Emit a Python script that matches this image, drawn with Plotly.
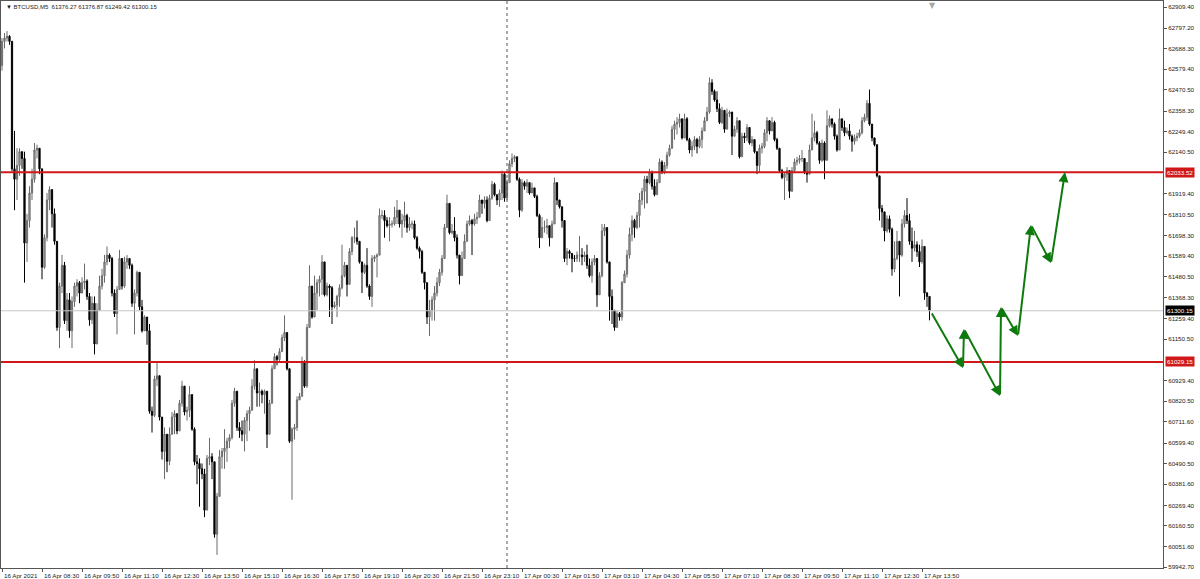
import pandas as pd
import plotly.graph_objects as go

# ---------------- data ----------------
symbol_header = "\u25BC BTCUSD,M5  61376.27 61376.87 61249.42 61300.15"
start_time = "2021-04-16 07:10"
first_open = 62600

closes = [
    62727, 62745, 62754, 62727, 62052, 61997, 62070, 62143, 62107, 61659,
    61778, 61924, 61997, 62152, 62161, 62052, 61531, 61687, 61887, 61942,
    61814, 61668, 61212, 61431, 61541, 61248, 61358, 61194, 61349, 61431,
    61449, 61394, 61449, 61458, 61376, 61252, 61340, 61124, 61303, 61431,
    61486, 61559, 61595, 61577, 61394, 61285, 61413, 61577, 61431, 61559,
    61577, 61541, 61340, 61394, 61504, 61321, 61194, 61267, 61194, 60768,
    60746, 60938, 60956, 60737, 60555, 60646, 60503, 60646, 60737, 60755,
    60664, 60810, 60901, 60764, 60773, 60856, 60673, 60500, 60491, 60463,
    60436, 60244, 60518, 60527, 60500, 60116, 60317, 60527, 60555, 60573,
    60609, 60628, 60810, 60874, 60682, 60664, 60646, 60719, 60755, 60773,
    60901, 60993, 60865, 60874, 60856, 60874, 60646, 60810, 60993, 61057,
    61042, 61084, 61157, 61185, 60993, 60609, 60673, 60682, 60828, 60847,
    61029, 60901, 61212, 61431, 61267, 61394, 61449, 61467, 61559, 61385,
    61431, 61422, 61321, 61330, 61376, 61422, 61486, 61541, 61440, 61614,
    61687, 61687, 61668, 61559, 61504, 61541, 61431, 61376, 61577, 61586,
    61595, 61805, 61805, 61778, 61751, 61760, 61760, 61796, 61833, 61760,
    61778, 61805, 61741, 61760, 61760, 61687, 61632, 61614, 61504, 61449,
    61267, 61303, 61358, 61394, 61449, 61504, 61577, 61741, 61869, 61714,
    61723, 61687, 61595, 61486, 61577, 61668, 61760, 61778, 61760, 61787,
    61796, 61887, 61869, 61887, 61778, 61897, 61970, 61915, 61887, 61924,
    62024, 61897, 61979, 62079, 62107, 62116, 61997, 61833, 61979, 61960,
    61979, 61924, 61951, 61906, 61805, 61687, 61741, 61741, 61751, 61687,
    61760, 61979, 61887, 61851, 61778, 61577, 61614, 61604, 61577, 61577,
    61595, 61595, 61586, 61595, 61541, 61486, 61559, 61577, 61385, 61486,
    61723, 61741, 61559, 61376, 61303, 61212, 61285, 61267, 61449, 61495,
    61595, 61705, 61778, 61741, 61805, 61887, 61933, 61997, 61979, 62033,
    61960, 61915, 61979, 62088, 62033, 62070, 62125, 62161, 62262, 62289,
    62298, 62317, 62216, 62317, 62207, 62152, 62171, 62207, 62171, 62207,
    62253, 62307, 62353, 62508, 62463, 62417, 62371, 62298, 62362, 62262,
    62344, 62353, 62225, 62262, 62307, 62116, 62225, 62216, 62271, 62189,
    62207, 62143, 62070, 62161, 62171, 62243, 62307, 62253, 62298, 62207,
    62161, 62043, 62006, 62024, 62043, 61933, 62043, 62088, 62097, 62107,
    62107, 62033, 62024, 62152, 62216, 62243, 62189, 62097, 62189, 62097,
    62280, 62317, 62289, 62225, 62152, 62317, 62271, 62243, 62253, 62225,
    62198, 62216, 62225, 62243, 62307, 62326, 62399, 62289, 62216, 62180,
    62015, 61842, 61824, 61723, 61787, 61732, 61522, 61577, 61668, 61595,
    61760, 61805, 61778, 61668, 61632, 61650, 61614, 61559, 61641, 61394,
    61376.27, 61300.15,
]

highs = [
    62745, 62772, 62782, 62760, 62730, 62253, 62161, 62161, 62143, 62143,
    61814, 61960, 62052, 62189, 62180, 62152, 62052, 61705, 61924, 61960,
    61924, 61842, 61668, 61449, 61596, 61559, 61394, 61394, 61376, 61449,
    61467, 61458, 61477, 61550, 61467, 61394, 61376, 61376, 61340, 61486,
    61522, 61596, 61641, 61604, 61586, 61413, 61431, 61623, 61577, 61586,
    61595, 61577, 61550, 61413, 61513, 61504, 61358, 61276, 61267, 61230,
    60792, 60956, 61024, 60938, 60737, 60682, 60646, 60682, 60764, 60773,
    60737, 60828, 60929, 60901, 60792, 60901, 60856, 60682, 60536, 60518,
    60491, 60463, 60536, 60627, 60546, 60500, 60335, 60563, 60573, 60673,
    60627, 60646, 60828, 60892, 60874, 60710, 60719, 60737, 60773, 60792,
    60938, 61038, 60938, 60920, 60883, 60883, 60874, 60828, 61011, 61075,
    61066, 61102, 61175, 61276, 61157, 60993, 60682, 60701, 60847, 60865,
    61057, 61038, 61230, 61541, 61431, 61486, 61467, 61486, 61595, 61559,
    61449, 61440, 61431, 61349, 61385, 61440, 61650, 61559, 61541, 61632,
    61696, 61741, 61778, 61668, 61559, 61550, 61632, 61440, 61595, 61595,
    61604, 61842, 61833, 61833, 61796, 61796, 61778, 61851, 61887, 61833,
    61814, 61878, 61814, 61796, 61778, 61778, 61696, 61641, 61623, 61504,
    61449, 61358, 61376, 61431, 61477, 61522, 61595, 61760, 61915, 61869,
    61760, 61796, 61705, 61595, 61614, 61705, 61778, 61805, 61787, 61814,
    61824, 61915, 61887, 61906, 61906, 61915, 61988, 61979, 61915, 61942,
    62043, 62033, 61997, 62097, 62134, 62125, 62116, 62006, 61997, 61988,
    61997, 61979, 61979, 61951, 61915, 61814, 61796, 61778, 61787, 61751,
    61778, 62006, 61979, 61887, 61851, 61778, 61632, 61623, 61586, 61595,
    61614, 61696, 61632, 61614, 61650, 61577, 61577, 61595, 61577, 61504,
    61760, 61760, 61741, 61559, 61413, 61303, 61303, 61294, 61458, 61513,
    61623, 61741, 61805, 61787, 61824, 61924, 61951, 62015, 62015, 62052,
    62043, 61997, 61997, 62107, 62097, 62088, 62143, 62180, 62280, 62307,
    62326, 62344, 62317, 62344, 62326, 62216, 62198, 62225, 62216, 62225,
    62271, 62326, 62380, 62536, 62527, 62472, 62463, 62399, 62380, 62307,
    62371, 62362, 62344, 62280, 62326, 62289, 62243, 62243, 62289, 62253,
    62225, 62207, 62143, 62180, 62189, 62262, 62326, 62298, 62326, 62307,
    62216, 62161, 62052, 62033, 62061, 62033, 62061, 62107, 62116, 62125,
    62152, 62107, 62088, 62180, 62344, 62307, 62253, 62198, 62207, 62198,
    62362, 62335, 62317, 62298, 62234, 62371, 62317, 62307, 62271, 62289,
    62234, 62234, 62243, 62262, 62326, 62344, 62417, 62472, 62289, 62216,
    62180, 62015, 61860, 61814, 61805, 61805, 61741, 61668, 61723, 61668,
    61787, 61833, 61897, 61814, 61741, 61723, 61668, 61650, 61678, 61641,
    61400, 61376.87,
]

lows = [
    62572, 62690, 62727, 62709, 62040, 61833, 61887, 62015, 62052, 61449,
    61559, 61741, 61887, 61979, 62107, 62024, 61467, 61522, 61668, 61833,
    61741, 61650, 61194, 61102, 61394, 61230, 61194, 61157, 61102, 61321,
    61376, 61340, 61394, 61413, 61358, 61221, 61230, 61069, 61124, 61303,
    61413, 61449, 61541, 61559, 61376, 61267, 61175, 61413, 61413, 61422,
    61522, 61522, 61321, 61175, 61376, 61303, 61185, 61194, 61120, 60755,
    60655, 60737, 60901, 60719, 60512, 60408, 60445, 60482, 60646, 60646,
    60646, 60664, 60792, 60746, 60719, 60737, 60664, 60482, 60381, 60262,
    60408, 60207, 60244, 60482, 60408, 60098, 60007, 60317, 60463, 60463,
    60500, 60573, 60618, 60792, 60664, 60627, 60609, 60555, 60609, 60664,
    60773, 60883, 60792, 60792, 60810, 60755, 60573, 60646, 60810, 60993,
    61011, 61029, 61084, 61139, 60984, 60600, 60299, 60618, 60664, 60828,
    60892, 60892, 60892, 61212, 61258, 61321, 61303, 61376, 61385, 61376,
    61376, 61267, 61230, 61312, 61267, 61321, 61413, 61477, 61376, 61440,
    61595, 61659, 61650, 61550, 61394, 61495, 61422, 61358, 61321, 61559,
    61477, 61595, 61787, 61687, 61741, 61668, 61741, 61751, 61760, 61741,
    61687, 61741, 61714, 61723, 61732, 61678, 61623, 61577, 61495, 61413,
    61230, 61166, 61248, 61248, 61376, 61431, 61486, 61577, 61741, 61705,
    61705, 61668, 61577, 61440, 61559, 61577, 61705, 61751, 61595, 61751,
    61760, 61814, 61814, 61842, 61769, 61778, 61887, 61906, 61860, 61851,
    61887, 61878, 61887, 61979, 62061, 62088, 61988, 61796, 61824, 61942,
    61924, 61915, 61924, 61897, 61796, 61632, 61687, 61714, 61705, 61641,
    61723, 61760, 61860, 61842, 61741, 61559, 61541, 61577, 61504, 61559,
    61559, 61559, 61541, 61559, 61522, 61477, 61449, 61541, 61321, 61394,
    61477, 61696, 61550, 61248, 61230, 61194, 61230, 61248, 61248, 61449,
    61477, 61577, 61668, 61687, 61732, 61741, 61860, 61842, 61869, 61970,
    61942, 61906, 61924, 61979, 62024, 62024, 62052, 62116, 62180, 62207,
    62234, 62271, 62207, 62216, 62198, 62134, 62116, 62152, 62134, 62161,
    62161, 62253, 62317, 62344, 62444, 62408, 62353, 62289, 62289, 62243,
    62289, 62326, 62125, 62225, 62243, 62107, 62116, 62189, 62198, 62180,
    62171, 62134, 62024, 62033, 62134, 62161, 62198, 62234, 62271, 62198,
    62152, 62033, 61997, 61887, 61988, 61897, 61951, 62033, 62070, 62079,
    62088, 62024, 61979, 62024, 62152, 62198, 62180, 62079, 62088, 61997,
    62107, 62271, 62271, 62207, 62143, 62152, 62253, 62225, 62234, 62207,
    62143, 62180, 62198, 62216, 62234, 62298, 62307, 62280, 62198, 62171,
    62006, 61778, 61741, 61668, 61714, 61714, 61486, 61504, 61568, 61376,
    61586, 61741, 61760, 61650, 61559, 61614, 61586, 61532, 61550, 61358,
    61321, 61249.42,
]

resistance_level = 62033.52
support_level = 61029.15
bid_price = 61300.15
day_separator = "2021-04-17 00:00"

price_tick_values = [
    62909.40, 62797.20, 62688.30, 62579.40, 62470.50, 62358.30, 62249.40,
    62140.50, 61919.40, 61810.50, 61698.30, 61589.40, 61480.50, 61368.30,
    61259.40, 61150.50, 60929.40, 60820.50, 60711.60, 60599.40, 60490.50,
    60381.60, 60269.40, 60160.50, 60051.60, 59942.70,
]

time_tick_times = [
    "2021-04-16 07:10", "2021-04-16 08:30", "2021-04-16 09:50", "2021-04-16 11:10",
    "2021-04-16 12:30", "2021-04-16 13:50", "2021-04-16 15:10", "2021-04-16 16:30",
    "2021-04-16 17:50", "2021-04-16 19:10", "2021-04-16 20:30", "2021-04-16 21:50",
    "2021-04-16 23:10", "2021-04-17 00:30", "2021-04-17 01:50", "2021-04-17 03:10",
    "2021-04-17 04:30", "2021-04-17 05:50", "2021-04-17 07:10", "2021-04-17 08:30",
    "2021-04-17 09:50", "2021-04-17 11:10", "2021-04-17 12:30", "2021-04-17 13:50",
]
time_tick_labels = [
    "16 Apr 2021", "16 Apr 08:30", "16 Apr 09:50", "16 Apr 11:10", "16 Apr 12:30",
    "16 Apr 13:50", "16 Apr 15:10", "16 Apr 16:30", "16 Apr 17:50", "16 Apr 19:10",
    "16 Apr 20:30", "16 Apr 21:50", "16 Apr 23:10", "17 Apr 00:30", "17 Apr 01:50",
    "17 Apr 03:10", "17 Apr 04:30", "17 Apr 05:50", "17 Apr 07:10", "17 Apr 08:30",
    "17 Apr 09:50", "17 Apr 11:10", "17 Apr 12:30", "17 Apr 13:50",
]

# projected path drawn with green arrows
arrow_times = [
    "2021-04-17 14:08", "2021-04-17 15:12", "2021-04-17 15:14", "2021-04-17 16:26",
    "2021-04-17 16:28", "2021-04-17 17:02", "2021-04-17 17:28", "2021-04-17 18:08",
    "2021-04-17 18:36",
]
arrow_prices = [61294, 60997, 61204, 60849, 61320, 61167, 61755, 61553, 62035]

# ---------------- helpers ----------------
t0 = pd.Timestamp(start_time)
bar = pd.Timedelta(minutes=5)


def to_bar(t):
    return (pd.Timestamp(t) - t0) / bar


xs = list(range(len(closes)))
opens = [first_open] + closes[:-1]
highs_c = [max(h, o, c) for h, o, c in zip(highs, opens, closes)]
lows_c = [min(l, o, c) for l, o, c in zip(lows, opens, closes)]

FONT = "Liberation Sans"
TXT = "#1a1a1a"
FS = 6.2
fig = go.Figure()

fig.add_trace(go.Candlestick(
    x=xs, open=opens, high=highs_c, low=lows_c, close=closes,
    increasing=dict(line=dict(color="#6a6a6a", width=1), fillcolor="#a8a8a8"),
    decreasing=dict(line=dict(color="#000000", width=1), fillcolor="#000000"),
    whiskerwidth=0, showlegend=False, hoverinfo="skip",
))

shapes = [
    dict(type="line", xref="x", yref="paper", x0=to_bar(day_separator), x1=to_bar(day_separator),
         y0=0, y1=1, line=dict(color="#555555", width=1, dash="dot")),
    dict(type="line", xref="paper", yref="y", x0=0, x1=1, y0=bid_price, y1=bid_price,
         line=dict(color="#c8c8c8", width=1)),
    dict(type="line", xref="paper", yref="y", x0=0, x1=1, y0=resistance_level, y1=resistance_level,
         line=dict(color="#d01818", width=2)),
    dict(type="line", xref="paper", yref="y", x0=0, x1=1, y0=support_level, y1=support_level,
         line=dict(color="#d01818", width=2)),
]

annotations = [
    dict(xref="paper", yref="paper", x=0.003, y=0.999, xanchor="left", yanchor="top",
         text=symbol_header, showarrow=False, font=dict(family=FONT, size=6, color=TXT)),
    dict(xref="paper", yref="paper", x=0.8015, y=1.0, xanchor="center", yanchor="top",
         yshift=2, text="\u25BC", showarrow=False, font=dict(family="DejaVu Sans", size=8, color="#a8a8a8")),
]
for lvl, bg in [(resistance_level, "#d01818"), (support_level, "#d01818"), (bid_price, "#000000")]:
    annotations.append(dict(xref="paper", yref="y", x=1.0, y=lvl, xanchor="left", yanchor="middle",
                            xshift=2, text=f"{lvl:.2f}", showarrow=False, bgcolor=bg,
                            borderpad=1, font=dict(family=FONT, size=FS, color="#ffffff")))

# time labels, left-aligned at their tick as in the terminal
for t, lab in zip(time_tick_times, time_tick_labels):
    annotations.append(dict(xref="x", yref="paper", x=to_bar(t), y=0, xanchor="left", yanchor="top",
                            xshift=0, yshift=-2, text=lab, showarrow=False,
                            font=dict(family=FONT, size=FS, color=TXT)))

ax_x = [to_bar(t) for t in arrow_times]
for i in range(1, len(arrow_times)):
    annotations.append(dict(
        x=ax_x[i], y=arrow_prices[i], ax=ax_x[i - 1], ay=arrow_prices[i - 1],
        xref="x", yref="y", axref="x", ayref="y", text="", showarrow=True,
        arrowhead=2, arrowsize=1.0, arrowwidth=2, arrowcolor="#0e7a0e",
    ))

fig.update_layout(
    width=1200, height=579,
    margin=dict(l=1, r=37, t=1, b=11),
    paper_bgcolor="white", plot_bgcolor="white",
    shapes=shapes, annotations=annotations,
    showlegend=False,
    font=dict(family=FONT, size=FS, color=TXT),
)
fig.update_xaxes(
    range=[-0.4, 464.4], showgrid=False, zeroline=False,
    rangeslider=dict(visible=False),
    tickmode="array", tickvals=[to_bar(t) for t in time_tick_times],
    ticktext=[""] * len(time_tick_times),
    ticks="outside", ticklen=3, tickcolor="#555555",
    showline=True, linecolor="#555555", linewidth=1, mirror=True,
)
fig.update_yaxes(
    range=[59937.4, 62941.2], side="right", showgrid=False, zeroline=False,
    tickmode="array", tickvals=price_tick_values, tickformat=".2f",
    ticks="outside", ticklen=3, tickcolor="#555555",
    tickfont=dict(family=FONT, size=FS, color=TXT),
    showline=True, linecolor="#555555", linewidth=1, mirror=True,
)

fig.write_html(
    "out.html",
    config={"displayModeBar": False},
    post_script="document.body.style.margin='0';document.body.style.padding='0';",
)
